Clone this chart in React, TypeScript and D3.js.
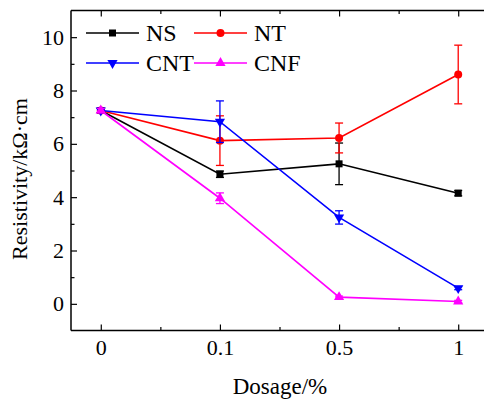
import React, { useEffect, useRef } from 'react';
import * as d3 from 'd3';

const dosages = ['0', '0.1', '0.5', '1'];
const seriesNames = ['NS', 'NT', 'CNT', 'CNF'];
const seriesColors = ['#000000', '#ff0000', '#0000ff', '#ff00ff'];
const seriesMarkers = ['square', 'circle', 'down', 'up'];

const nsValues = [7.25, 4.86, 5.25, 4.15];
const nsErrors = [0.08, 0.12, 0.78, 0.1];
const ntValues = [7.25, 6.12, 6.22, 8.6];
const ntErrors = [0.08, 0.93, 0.56, 1.1];
const cntValues = [7.25, 6.83, 3.24, 0.59];
const cntErrors = [0.08, 0.78, 0.25, 0.06];
const cnfValues = [7.25, 3.96, 0.25, 0.09];
const cnfErrors = [0.08, 0.2, 0.04, 0.04];

const yMajorTicks = [0, 2, 4, 6, 8, 10];
const yMinorTicks = [1, 3, 5, 7, 9];

const FONT = "'Liberation Serif', 'Times New Roman', serif";

export default function App() {
  const ref = useRef<SVGSVGElement>(null);
  const width = 484;
  const height = 399;

  useEffect(() => {
    const svg = d3.select(ref.current);
    svg.selectAll('*').remove();

    const left = 71, top = 10.5, bottom = 330.5, right = 488;

    const x = d3.scaleLinear().domain([-0.25, 3.25]).range([left, right]);
    const y = d3.scaleLinear().domain([-1, 11]).range([bottom, top]);

    const data = [
      { values: nsValues, errors: nsErrors },
      { values: ntValues, errors: ntErrors },
      { values: cntValues, errors: cntErrors },
      { values: cnfValues, errors: cnfErrors },
    ];

    // frame lines
    svg.append('line').attr('x1', left).attr('x2', left).attr('y1', top).attr('y2', bottom)
      .attr('stroke', '#000').attr('stroke-width', 1.5);
    svg.append('line').attr('x1', left).attr('x2', right).attr('y1', bottom).attr('y2', bottom)
      .attr('stroke', '#000').attr('stroke-width', 1.5);
    svg.append('line').attr('x1', left).attr('x2', right).attr('y1', top).attr('y2', top)
      .attr('stroke', '#000').attr('stroke-width', 1.5);

    // y axis
    const yAxis = d3.axisLeft(y).tickValues(yMajorTicks).tickSize(-6).tickPadding(7)
      .tickFormat(d3.format('d'));
    const gy = svg.append('g').attr('transform', `translate(${left},0)`).call(yAxis);
    gy.select('.domain').remove();
    gy.selectAll('line').attr('stroke-width', 1.2);
    gy.selectAll('text').style('font-family', FONT).style('font-size', '22px').attr('fill', '#000');

    const gyMinor = svg.append('g').attr('transform', `translate(${left},0)`)
      .call(d3.axisLeft(y).tickValues(yMinorTicks).tickSize(-3.5).tickFormat(() => ''));
    gyMinor.select('.domain').remove();
    gyMinor.selectAll('line').attr('stroke-width', 1.2);

    // x axis
    const xAxis = d3.axisBottom(x).tickValues(d3.range(dosages.length)).tickSize(-6).tickPadding(9)
      .tickFormat((d, i) => dosages[i]);
    const gx = svg.append('g').attr('transform', `translate(0,${bottom})`).call(xAxis);
    gx.select('.domain').remove();
    gx.selectAll('line').attr('stroke-width', 1.2);
    gx.selectAll('text').style('font-family', FONT).style('font-size', '22px').attr('fill', '#000');

    const xMinor = [0.5, 1.5, 2.5];
    const gxMinor = svg.append('g').attr('transform', `translate(0,${bottom})`)
      .call(d3.axisBottom(x).tickValues(xMinor).tickSize(-3.5).tickFormat(() => ''));
    gxMinor.select('.domain').remove();
    gxMinor.selectAll('line').attr('stroke-width', 1.2);

    // mirrored top ticks
    const gt = svg.append('g').attr('transform', `translate(0,${top})`)
      .call(d3.axisTop(x).tickValues(d3.range(dosages.length)).tickSize(-6).tickFormat(() => ''));
    gt.select('.domain').remove();
    gt.selectAll('line').attr('stroke-width', 1.2);
    const gtMinor = svg.append('g').attr('transform', `translate(0,${top})`)
      .call(d3.axisTop(x).tickValues(xMinor).tickSize(-3.5).tickFormat(() => ''));
    gtMinor.select('.domain').remove();
    gtMinor.selectAll('line').attr('stroke-width', 1.2);

    // axis titles
    svg.append('text')
      .attr('transform', `translate(27,179) rotate(-90)`)
      .attr('text-anchor', 'middle')
      .style('font-family', FONT).style('font-size', '22px')
      .text('Resistivity/kΩ·cm');
    svg.append('text')
      .attr('x', 280).attr('y', 394)
      .attr('text-anchor', 'middle')
      .style('font-family', FONT).style('font-size', '23px')
      .text('Dosage/%');

    const symbolFor = (m: string) => {
      if (m === 'square') return d3.symbol(d3.symbolSquare, 49)();
      if (m === 'circle') return d3.symbol(d3.symbolCircle, 50)();
      return d3.symbol(d3.symbolTriangle, 45)();
    };

    const line = d3.line<number>().x((d, i) => x(i)).y(d => y(d));

    data.forEach((s, si) => {
      const color = seriesColors[si];
      const g = svg.append('g');
      g.append('path').datum(s.values).attr('d', line)
        .attr('fill', 'none').attr('stroke', color).attr('stroke-width', 1.6);

      // error bars
      s.values.forEach((v, i) => {
        const e = s.errors[i];
        const cx = x(i);
        g.append('line').attr('x1', cx).attr('x2', cx).attr('y1', y(v - e)).attr('y2', y(v + e))
          .attr('stroke', color).attr('stroke-width', 1.3);
        [v - e, v + e].forEach(w => {
          g.append('line').attr('x1', cx - 4).attr('x2', cx + 4).attr('y1', y(w)).attr('y2', y(w))
            .attr('stroke', color).attr('stroke-width', 1.3);
        });
      });

      g.selectAll('.marker').data(s.values).join('path')
        .attr('class', 'marker')
        .attr('d', symbolFor(seriesMarkers[si]))
        .attr('transform', (d, i) => `translate(${x(i)},${y(d)})${seriesMarkers[si] === 'down' ? ' rotate(180)' : ''}`)
        .attr('fill', color);
    });

    // legend
    const legendPos = [
      { x: 86, y: 33 },
      { x: 194, y: 33 },
      { x: 86, y: 63 },
      { x: 194, y: 63 },
    ];
    seriesNames.forEach((name, si) => {
      const p = legendPos[si];
      const color = seriesColors[si];
      const g = svg.append('g').attr('transform', `translate(${p.x},${p.y})`);
      g.append('line').attr('x1', 0).attr('x2', 53).attr('y1', 0).attr('y2', 0)
        .attr('stroke', color).attr('stroke-width', 1.6);
      g.append('path').attr('d', symbolFor(seriesMarkers[si]))
        .attr('transform', `translate(26.5,0)${seriesMarkers[si] === 'down' ? ' rotate(180)' : ''}`)
        .attr('fill', color);
      g.append('text').attr('x', 60).attr('y', 8)
        .style('font-family', FONT).style('font-size', '24px')
        .text(name);
    });
  }, []);

  return (
    <svg ref={ref} width={width} height={height}
      style={{ position: 'absolute', left: 0, top: 0, background: '#fff' }} />
  );
}
